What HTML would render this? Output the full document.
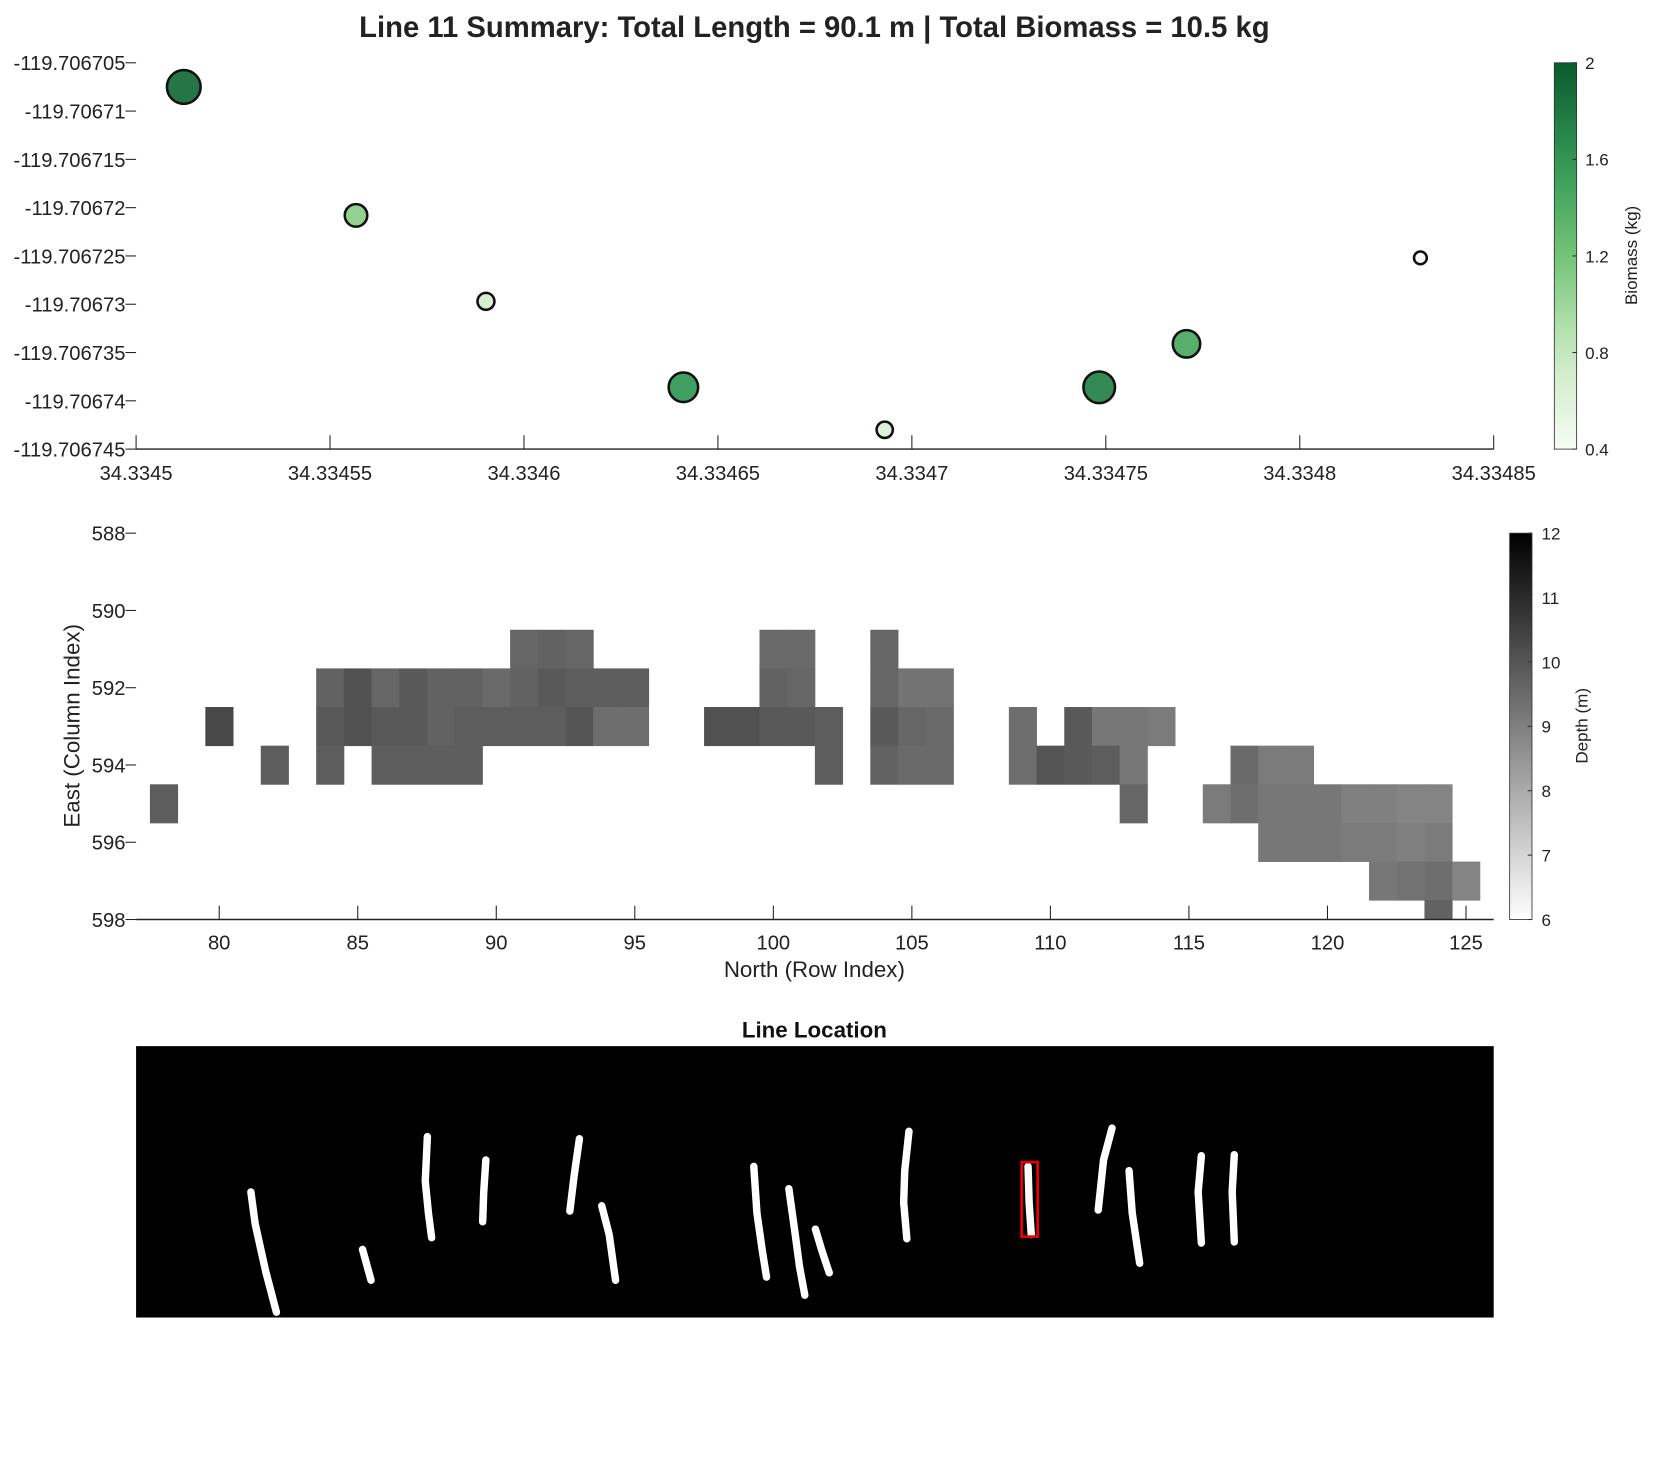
<!DOCTYPE html>
<html><head><meta charset="utf-8"><style>
html,body{margin:0;padding:0;background:#fff}
svg{display:block;font-family:"Liberation Sans",Arial,sans-serif}
</style></head><body>
<svg id="fig" width="1667" height="1458" viewBox="0 0 1568 1370" preserveAspectRatio="none" xmlns="http://www.w3.org/2000/svg">
<rect width="1568" height="1370" fill="#fff"/>
<text x="766" y="35" text-anchor="middle" font-size="27.5" font-weight="bold" fill="#222">Line 11 Summary: Total Length = 90.1 m | Total Biomass = 10.5 kg</text>
<g id="p1"></g>
<g id="p2"></g>
<g id="p3"></g>
</svg>
<script>
// ---- scatter data ----
const lats = [34.3345123, 34.3345567, 34.3345902, 34.3346411, 34.3346930, 34.3347483, 34.3347708, 34.3348311];
const lons = [-119.7067075, -119.7067208, -119.7067297, -119.7067386, -119.7067430, -119.7067386, -119.7067341, -119.7067252];
const biomass = [1.9, 1.1, 0.7, 1.6, 0.65, 1.75, 1.45, 0.4];
const latTicks = ["34.3345","34.33455","34.3346","34.33465","34.3347","34.33475","34.3348","34.33485"];
const lonTicks = ["-119.706705","-119.70671","-119.706715","-119.70672","-119.706725","-119.70673","-119.706735","-119.70674","-119.706745"];
const biomassTicks = ["0.4","0.8","1.2","1.6","2"];
// ---- heatmap data ----
const heatCols = [78,80,82,84,84,84,85,85,86,86,86,87,87,87,88,88,88,89,89,89,90,90,91,91,91,92,92,92,93,93,93,94,94,95,95,98,99,100,100,100,101,101,101,102,102,104,104,104,104,105,105,105,106,106,106,109,109,110,111,111,112,112,113,113,113,114,116,117,117,118,118,118,119,119,119,120,120,121,121,122,122,122,123,123,123,124,124,124,124,125];
const heatRows = [595,593,594,592,593,594,592,593,592,593,594,592,593,594,592,593,594,592,593,594,592,593,591,592,593,591,592,593,591,592,593,592,593,592,593,593,593,591,592,593,591,592,593,593,594,591,592,593,594,592,593,594,592,593,594,593,594,594,593,594,593,594,593,594,595,593,595,594,595,594,595,596,594,595,596,595,596,595,596,595,596,597,595,596,597,595,596,597,598,597];
const heatDepth = [9.8,10.3,9.8,9.7,9.9,9.8,10.1,10.1,9.6,9.9,9.8,9.9,9.9,9.8,9.7,9.7,9.8,9.7,9.8,9.8,9.5,9.8,9.6,9.7,9.8,9.7,9.9,9.8,9.6,9.8,10.0,9.8,9.4,9.8,9.4,10.1,10.1,9.5,9.7,9.9,9.5,9.6,9.9,9.8,9.8,9.6,9.6,9.9,9.7,9.3,9.6,9.5,9.3,9.5,9.5,9.4,9.4,10.0,9.9,9.9,9.2,9.8,9.2,9.2,9.6,9.1,9.1,9.5,9.4,9.1,9.2,9.2,9.1,9.2,9.2,9.2,9.2,9.0,9.1,9.0,9.1,9.2,8.9,9.0,9.3,8.9,9.1,9.4,9.7,8.9];
const rowTicks = [80,85,90,95,100,105,110,115,120,125];
const colTicks = [588,590,592,594,596,598];
const depthTicks = [6,7,8,9,10,11,12];
// ---- line location strokes ----
const strokes = [
 [[236,1120],[240,1150],[250,1195],[260,1233]],
 [[341,1174],[349,1203]],
 [[402,1068],[400,1110],[403,1140],[406,1163]],
 [[457,1090],[455,1120],[454,1148]],
 [[545,1070],[540,1105],[536,1138]],
 [[566,1133],[573,1160],[579,1203]],
 [[709,1096],[712,1140],[717,1175],[721,1200]],
 [[742,1117],[748,1160],[752,1190],[757,1217]],
 [[767,1155],[773,1175],[780,1196]],
 [[855,1063],[851,1100],[850,1130],[853,1164]],
 [[967,1096],[968,1130],[970,1160]],
 [[1046,1060],[1038,1090],[1033,1137]],
 [[1062,1100],[1065,1140],[1072,1187]],
 [[1130,1086],[1127,1120],[1130,1168]],
 [[1161,1085],[1159,1120],[1161,1167]]
];

const NS="http://www.w3.org/2000/svg";
function mk(parent,tag,attrs,txt){const e=document.createElementNS(NS,tag);for(const k in attrs)e.setAttribute(k,attrs[k]);if(txt!==undefined)e.textContent=txt;parent.appendChild(e);return e;}
function lerp(a,b,t){return a+(b-a)*t;}
const greens=[[247,252,245],[199,233,192],[116,196,118],[49,150,84],[10,90,45]];
function greenColor(t){t=Math.max(0,Math.min(1,t));const s=t*(greens.length-1);const i=Math.min(greens.length-2,Math.floor(s));const f=s-i;const c=greens[i].map((v,k)=>Math.round(lerp(v,greens[i+1][k],f)));return `rgb(${c[0]},${c[1]},${c[2]})`;}
function grayColor(d){const g=Math.round(255*Math.max(0,Math.min(1,(12-d)/6)));return `rgb(${g},${g},${g})`;}

// ===== Panel 1 =====
const p1=document.getElementById('p1');
const L1=128,R1=1405,T1=59,B1=422;
const x1=v=>L1+(v-34.3345)/0.00035*(R1-L1);
const y1=v=>T1+(-119.706705-v)/0.00004*(B1-T1);
let a;
a=mk(p1,'line',{x1:L1,y1:B1,x2:R1,y2:B1,stroke:'#222','stroke-width':1.3});

latTicks.forEach((t,i)=>{const x=x1(34.3345+i*0.00005);
 const l=mk(p1,'line',{x1:x,y1:B1,x2:x,y2:B1-13,stroke:'#222','stroke-width':1});
 
 const tx=mk(p1,'text',{x:x,y:B1+29,'text-anchor':'middle','font-size':19,fill:'#222'},t);
 });
lonTicks.forEach((t,i)=>{const y=T1+i*(B1-T1)/8;
 const l=mk(p1,'line',{x1:L1-10,y1:y,x2:L1,y2:y,stroke:'#222','stroke-width':1});
 
 const tx=mk(p1,'text',{x:L1-10,y:y+7,'text-anchor':'end','font-size':19,fill:'#222'},t);
 });
lats.forEach((la,i)=>{const b=biomass[i];
 const c=mk(p1,'circle',{cx:x1(la),cy:y1(lons[i]),r:6+(b-0.4)/1.6*10.5,fill:greenColor((b-0.4)/1.6),'fill-opacity':0.92,stroke:'#111','stroke-width':2.4});
 });
const defs=mk(document.getElementById('fig'),'defs',{});
const g1=mk(defs,'linearGradient',{id:'gr1',x1:0,y1:1,x2:0,y2:0});
for(let i=0;i<=10;i++)mk(g1,'stop',{offset:i/10,'stop-color':greenColor(i/10)});
a=mk(p1,'rect',{x:1462,y:T1,width:21,height:B1-T1,fill:'url(#gr1)',stroke:'#333','stroke-width':0.8});

biomassTicks.forEach((t,i)=>{const y=B1-i*(B1-T1)/4;
 mk(p1,'line',{x1:1479,y1:y,x2:1483,y2:y,stroke:'#333'});
 const tx=mk(p1,'text',{x:1491,y:y+6,'font-size':16,fill:'#222'},t);
 });
a=mk(p1,'text',{x:1540,y:240,'text-anchor':'middle','font-size':16,fill:'#222',transform:'rotate(-90 1540 240)'},'Biomass (kg)');


// ===== Panel 2 =====
const p2=document.getElementById('p2');
const L2=128,R2=1405,T2=501,B2=864;
const x2=v=>L2+(v-77)/49*(R2-L2);
const y2=v=>T2+(v-588)/10*(B2-T2);
heatCols.forEach((c,i)=>{const r=heatRows[i];
 const yt=Math.max(y2(r-0.5),T2),yb=Math.min(y2(r+0.5),B2);
 const rc=mk(p2,'rect',{x:x2(c-0.5),y:yt,width:x2(c+0.5)-x2(c-0.5)+0.4,height:yb-yt+0.4,fill:grayColor(heatDepth[i])});
 });
a=mk(p2,'line',{x1:L2,y1:B2,x2:R2,y2:B2,stroke:'#222','stroke-width':1.3});

rowTicks.forEach(t=>{const x=x2(t);
 mk(p2,'line',{x1:x,y1:B2,x2:x,y2:B2-13,stroke:'#222'});
 const tx=mk(p2,'text',{x:x,y:B2+28,'text-anchor':'middle','font-size':19,fill:'#222'},t);
 });
colTicks.forEach(t=>{const y=y2(t);
 mk(p2,'line',{x1:L2-10,y1:y,x2:L2,y2:y,stroke:'#222'});
 const tx=mk(p2,'text',{x:L2-10,y:y+7,'text-anchor':'end','font-size':19,fill:'#222'},t);
 });
a=mk(p2,'text',{x:766,y:918,'text-anchor':'middle','font-size':21,fill:'#222'},'North (Row Index)');

a=mk(p2,'text',{x:75,y:682,'text-anchor':'middle','font-size':21,fill:'#222',transform:'rotate(-90 75 682)'},'East (Column Index)');

const g2=mk(defs,'linearGradient',{id:'gr2',x1:0,y1:1,x2:0,y2:0});
mk(g2,'stop',{offset:0,'stop-color':'#fff'});mk(g2,'stop',{offset:1,'stop-color':'#000'});
a=mk(p2,'rect',{x:1420,y:T2,width:21,height:B2-T2,fill:'url(#gr2)',stroke:'#333','stroke-width':0.8});

depthTicks.forEach(t=>{const y=B2-(t-6)/6*(B2-T2);
 mk(p2,'line',{x1:1437,y1:y,x2:1441,y2:y,stroke:'#333'});
 const tx=mk(p2,'text',{x:1450,y:y+6,'font-size':16,fill:'#222'},t);
 });
a=mk(p2,'text',{x:1493,y:682,'text-anchor':'middle','font-size':16,fill:'#222',transform:'rotate(-90 1493 682)'},'Depth (m)');


// ===== Panel 3 =====
const p3=document.getElementById('p3');
a=mk(p3,'text',{x:766,y:975,'text-anchor':'middle','font-size':21,'font-weight':'bold',fill:'#111'},'Line Location');

a=mk(p3,'rect',{x:128,y:983,width:1277,height:255,fill:'#000'});

strokes.forEach(s=>{const pl=mk(p3,'polyline',{points:s.map(p=>p.join(',')).join(' '),fill:'none',stroke:'#fff','stroke-width':7,'stroke-linecap':'round','stroke-linejoin':'round'});
 });
a=mk(p3,'rect',{x:961,y:1092,width:15,height:70,fill:'none',stroke:'#e00','stroke-width':2.5});

</script>
</body></html>
